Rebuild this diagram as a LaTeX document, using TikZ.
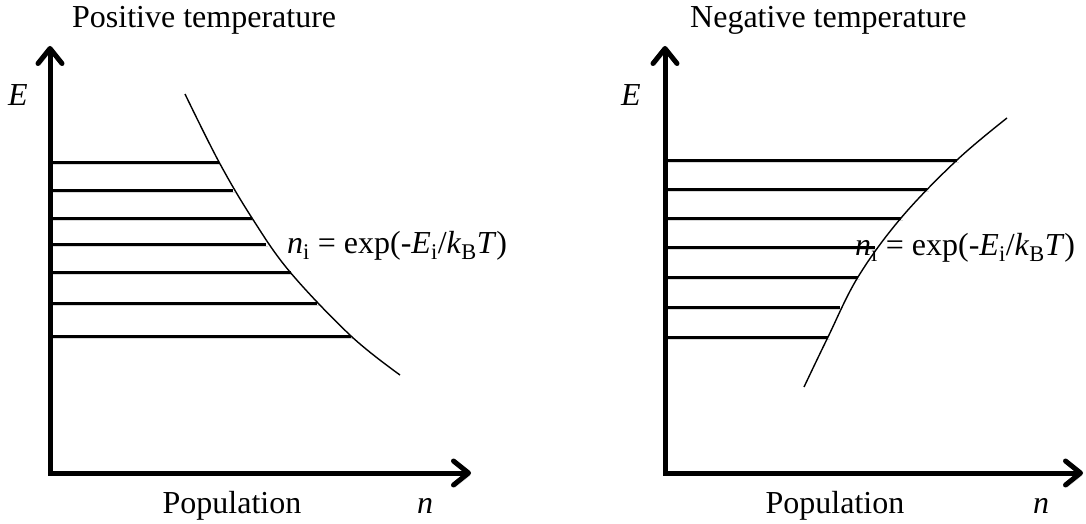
\documentclass[tikz,border=0pt]{standalone}
\usepackage{fontspec}
\setmainfont{Liberation Serif}
\usetikzlibrary{arrows.meta}
\begin{document}
\begin{tikzpicture}[x=1pt,y=-1pt,
  shadowed/.style={preaction={draw=black!15, transform canvas={shift={(1.5pt,-2.5pt)}}}},
  tipstyle/.style={},
  axis/.style={line width=5pt, line join=miter, shadowed,
    {Straight Barb[length=15pt,width=24pt,line width=5pt,line cap=round,line join=round]}-{Straight Barb[length=15pt,width=24pt,line width=5pt,line cap=round,line join=round]}},
  level/.style={line width=3pt, shadowed},
  curve/.style={line width=1.4pt},
  lbl/.style={inner sep=0pt, font=\fontsize{32}{38}\selectfont},
  formula/.style={inner sep=0pt, font=\fontsize{32}{38}\selectfont}]
\useasboundingbox (0,0) rectangle (1086,524);

% ---------- left panel ----------
\coordinate (LT) at (50,46);
\coordinate (LO) at (50,473);
\coordinate (LR) at (471,473);
\foreach \y/\xe in {162/219,190/233,218/252,244/266,272/291,303/317,336/351}
  \draw[level] (50,\y) -- (\xe,\y);
\draw[axis] (LT) -- (LO) -- (LR);
\draw[curve] plot[smooth, tension=0.6] coordinates {(185,94) (219,162) (252,218) (290,272) (351,336) (400,375)};

\node[lbl, anchor=base west] (tl) at (72,28) {Positive temperature};
\node[lbl] (el) at (18,95) {\textit{E}};
\node[lbl, anchor=base] (pl) at (232,513) {Population};
\node[lbl, anchor=base] (nl) at (425,513) {\textit{n}};
\node[formula, anchor=base west] (fl) at (287,253)
  {\textit{n}\textsubscript{i} = exp(-\textit{E}\textsubscript{i}/\textit{k}\textsubscript{B}\textit{T})};

% ---------- right panel ----------
\coordinate (RT) at (665,46);
\coordinate (RO) at (665,473);
\coordinate (RR) at (1083,473);
\foreach \y/\xe in {160/957,189/927,218/901,247/875,277/858,307/840,337/828}
  \draw[level] (665,\y) -- (\xe,\y);
\draw[axis] (RT) -- (RO) -- (RR);
\draw[curve] plot[smooth, tension=0.6] coordinates {(804,387) (828,337) (858,277) (901,218) (957,160) (1007,118)};

\node[lbl, anchor=base west] (tr) at (690,28) {Negative temperature};
\node[lbl] (er) at (631,95) {\textit{E}};
\node[lbl, anchor=base] (pr) at (835,513) {Population};
\node[lbl, anchor=base] (nr) at (1041,513) {\textit{n}};
\node[formula, anchor=base west] (fr) at (855,255)
  {\textit{n}\textsubscript{i} = exp(-\textit{E}\textsubscript{i}/\textit{k}\textsubscript{B}\textit{T})};
\end{tikzpicture}
\end{document}
